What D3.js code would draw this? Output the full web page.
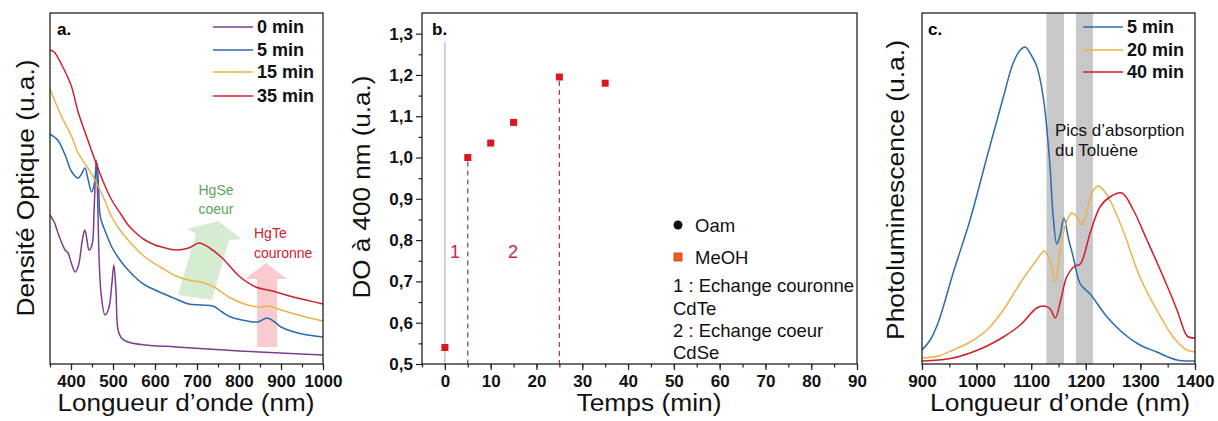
<!DOCTYPE html>
<html>
<head>
<meta charset="utf-8">
<script src="https://cdn.jsdelivr.net/npm/d3@7"></script>
<style>
  body { margin: 0; background: #fff; }
  svg { font-family: 'Liberation Sans', Arial, sans-serif; }
</style>
</head>
<body>
<svg width="1218" height="421"></svg>
<script>
// ---- data : panel a (absorbance, arbitrary units) ----
const abs0 = [[350,1.49],[360,1.42],[369,1.31],[380,1.19],[386,1.14],[393,1.11],[400,1.02],[410,0.92],[418,0.99],[427,1.24],[433,1.34],[438,1.24],[443,1.14],[450,1.19],[455,1.54],[460,2.04],[463,1.74],[467,1.04],[472,0.69],[481,0.49],[490,0.56],[497,0.79],[502,0.99],[507,0.74],[512,0.34],[520,0.26],[536,0.22],[576,0.19],[650,0.17],[800,0.13],[1000,0.09]]
const abs5 = [[350,2.30],[360,2.27],[370,2.23],[386,2.09],[402,1.92],[417,1.86],[425,1.90],[433,1.96],[441,1.84],[449,1.72],[455,1.79],[462,2.01],[466,1.74],[470,1.47],[485,1.29],[497,1.17],[520,1.02],[536,0.94],[560,0.84],[576,0.79],[616,0.71],[650,0.65],[680,0.60],[710,0.59],[738,0.58],[760,0.52],[780,0.47],[820,0.43],[845,0.42],[867,0.46],[885,0.42],[900,0.37],[940,0.31],[1000,0.27]]
const abs15 = [[350,2.75],[378,2.47],[400,2.29],[417,2.11],[440,1.96],[457,1.84],[480,1.64],[497,1.47],[520,1.32],[536,1.24],[576,1.07],[616,0.96],[650,0.88],[680,0.84],[710,0.82],[740,0.77],[780,0.66],[820,0.59],[850,0.57],[870,0.58],[900,0.54],[950,0.48],[1000,0.43]]
const abs35 = [[350,3.14],[360,3.12],[378,2.99],[400,2.79],[417,2.52],[440,2.24],[457,2.04],[480,1.79],[497,1.64],[520,1.49],[536,1.39],[560,1.29],[576,1.24],[600,1.19],[616,1.17],[650,1.14],[680,1.16],[705,1.21],[730,1.16],[760,1.06],[800,0.88],[840,0.77],[880,0.73],[920,0.68],[960,0.64],[1000,0.60]]
const absLabels = ['0 min', '5 min', '15 min', '35 min']
const absColors = ['#7e3d8f', '#2a6ab0', '#e8b44a', '#d0202e']

// ---- data : panel b (DO at 400 nm) ----
const times = [0, 5, 10, 15, 25, 35]
const doValues = [0.54, 1.0, 1.035, 1.085, 1.195, 1.18]
const bTicksX = [0, 10, 20, 30, 40, 50, 60, 70, 80, 90]
const bTicksY = [0.5, 0.6, 0.7, 0.8, 0.9, 1.0, 1.1, 1.2, 1.3]

// ---- data : panel c (photoluminescence, arbitrary units) ----
const pl5 = [[900,14],[915,24],[930,42],[957,91],[988,144],[1019,207],[1049,267],[1067,301],[1080,314],[1089,317],[1100,309],[1110,298],[1122,267],[1134,201],[1140,149],[1147,120],[1153,129],[1160,146],[1168,126],[1177,107],[1189,81],[1200,74],[1208,70],[1239,47],[1268,31],[1299,19],[1330,12],[1367,4],[1400,3]]
const pl20 = [[900,6],[930,8],[957,14],[988,22],[1019,34],[1049,54],[1080,81],[1110,104],[1124,113],[1135,102],[1144,82],[1152,109],[1159,132],[1174,151],[1185,146],[1193,139],[1205,159],[1214,174],[1223,178],[1232,174],[1244,164],[1268,134],[1299,87],[1330,54],[1360,27],[1385,14],[1400,12]]
const pl40 = [[900,3],[930,4],[957,6],[988,11],[1019,18],[1049,27],[1080,39],[1110,56],[1124,58],[1135,55],[1144,46],[1155,66],[1165,87],[1180,98],[1190,100],[1208,131],[1226,157],[1244,167],[1266,171],[1287,154],[1312,124],[1342,87],[1367,54],[1383,30],[1388,27],[1400,26]]
const plLabels = ['5 min', '20 min', '40 min']
const plColors = ['#2a6ab0', '#efb04a', '#d51a2a']
const tolueneBands = [[1128, 1160], [1182, 1213]]

const svg = d3.select('svg')
const plotTop = 13
const plotBottom = 364

// panel frame
const frame = (x0, x1) => {
  svg.append('rect')
    .attr('x', x0).attr('y', plotTop)
    .attr('width', x1 - x0).attr('height', plotBottom - plotTop)
    .attr('fill', 'none').attr('stroke', '#222').attr('stroke-width', 1.3)
}

const xAxis = (scale, major, minor, fmt) => {
  const g = svg.append('g').attr('transform', `translate(0,${plotBottom})`)
  g.append('g').call(d3.axisBottom(scale).tickValues(minor).tickSize(3.5).tickFormat(''))
  g.append('g').call(d3.axisBottom(scale).tickValues(major).tickSize(6).tickPadding(5).tickFormat(fmt || d3.format('d')))
  g.selectAll('.domain').remove()
  g.selectAll('line').attr('stroke', '#222').attr('stroke-width', 1.2)
  g.selectAll('text').attr('font-size', 17).attr('font-weight', 'bold').attr('fill', '#111')
}

// axis titles: wide font in the original, so stretch to the measured length
const title = (text, x, y, len, rotate) => {
  svg.append('text')
    .attr('transform', rotate ? `translate(${x},${y}) rotate(-90)` : `translate(${x},${y})`)
    .attr('text-anchor', 'middle')
    .attr('font-size', 23)
    .attr('textLength', len)
    .attr('lengthAdjust', 'spacingAndGlyphs')
    .attr('fill', '#111')
    .text(text)
}

const legendLines = (labels, colors, xl, ys) => {
  labels.forEach((l, i) => {
    svg.append('line').attr('x1', xl).attr('x2', xl + 40).attr('y1', ys[i]).attr('y2', ys[i])
      .attr('stroke', colors[i]).attr('stroke-width', 1.5)
    svg.append('text').attr('x', xl + 44).attr('y', ys[i] + 6)
      .attr('font-size', 18).attr('font-weight', 'bold').attr('fill', '#111').text(l)
  })
}

// ================= panel a =================
const xA = d3.scaleLinear().domain([350, 1000]).range([50, 323])
const yA = d3.scaleLinear().domain([0, 3.51]).range([plotBottom, plotTop])
const lineA = d3.line().x(d => xA(d[0])).y(d => yA(d[1])).curve(d3.curveCatmullRom.alpha(0.5))

// arrows (drawn below curves)
svg.append('path')
  .attr('d', 'M178,295 L196,234 L187,229 L218,221 L242,239 L229,240 L212,300 Z')
  .attr('fill', '#b9e0b4').attr('opacity', 0.6)
svg.append('path')
  .attr('d', 'M257,347 L257,279 L245,279 L266,263 L287,279 L277,279 L277,347 Z')
  .attr('fill', '#f5a9ae').attr('opacity', 0.6)

;[abs0, abs5, abs15, abs35].forEach((s, i) => {
  svg.append('path').attr('d', lineA(s)).attr('fill', 'none')
    .attr('stroke', absColors[i]).attr('stroke-width', 1.5)
})

svg.append('text').attr('x', 216).attr('y', 195).attr('text-anchor', 'middle')
  .attr('font-size', 14).attr('fill', '#5aa55a').text('HgSe')
svg.append('text').attr('x', 216).attr('y', 214).attr('text-anchor', 'middle')
  .attr('font-size', 14).attr('fill', '#5aa55a').text('coeur')
svg.append('text').attr('x', 254).attr('y', 238)
  .attr('font-size', 14).attr('fill', '#d0202e').text('HgTe')
svg.append('text').attr('x', 254).attr('y', 258)
  .attr('font-size', 14).attr('fill', '#d0202e').text('couronne')

frame(50, 323)
xAxis(xA, d3.range(400, 1001, 100), d3.range(350, 1001, 50))
title('Longueur d’onde (nm)', 186, 411, 257)
title('Densité Optique (u.a.)', 34, 188, 257, true)
svg.append('text').attr('x', 57).attr('y', 35).attr('font-size', 17).attr('font-weight', 'bold').text('a.')
legendLines(absLabels, absColors, 213, [27, 50, 72, 96])

// ================= panel b =================
const xB = d3.scaleLinear().domain([-5, 90]).range([422, 857])
const yB = d3.scaleLinear().domain([0.5, 1.35]).range([plotBottom, plotTop])
const comma = d => d3.format('.1f')(d).replace('.', ',')

svg.append('line').attr('x1', xB(0)).attr('x2', xB(0)).attr('y1', 42).attr('y2', plotBottom)
  .attr('stroke', '#b8c8da').attr('stroke-width', 1.5)
svg.append('line').attr('x1', xB(5)).attr('x2', xB(5)).attr('y1', yB(doValues[1]) + 4).attr('y2', plotBottom)
  .attr('stroke', '#8a3a4c').attr('stroke-width', 1.2).attr('stroke-dasharray', '5,4')
svg.append('line').attr('x1', xB(25)).attr('x2', xB(25)).attr('y1', yB(doValues[4]) + 4).attr('y2', plotBottom)
  .attr('stroke', '#cc2a3e').attr('stroke-width', 1.2).attr('stroke-dasharray', '5,4')

svg.selectAll('rect.pt').data(times).enter().append('rect').attr('class', 'pt')
  .attr('x', d => xB(d) - 3.5).attr('y', (d, i) => yB(doValues[i]) - 3.5)
  .attr('width', 7).attr('height', 7).attr('fill', '#e0141e')

svg.append('text').attr('x', 455).attr('y', 258).attr('text-anchor', 'middle')
  .attr('font-size', 18).attr('fill', '#cc2a3e').text('1')
svg.append('text').attr('x', 513).attr('y', 258).attr('text-anchor', 'middle')
  .attr('font-size', 18).attr('fill', '#cc2a3e').text('2')

frame(422, 857)
xAxis(xB, bTicksX, d3.range(-5, 91, 5))
{
  const g = svg.append('g').attr('transform', 'translate(422,0)')
  g.append('g').call(d3.axisLeft(yB).tickValues(d3.range(0.55, 1.35, 0.1)).tickSize(3.5).tickFormat(''))
  g.append('g').call(d3.axisLeft(yB).tickValues(bTicksY).tickSize(6).tickPadding(3).tickFormat(comma))
  g.selectAll('.domain').remove()
  g.selectAll('line').attr('stroke', '#222').attr('stroke-width', 1.2)
  g.selectAll('text').attr('font-size', 17).attr('font-weight', 'bold').attr('fill', '#111')
}
title('Temps (min)', 649, 411, 145)
title('DO à 400 nm (u.a.)', 370, 187, 223, true)
svg.append('text').attr('x', 432).attr('y', 35).attr('font-size', 17).attr('font-weight', 'bold').text('b.')

svg.append('circle').attr('cx', 678).attr('cy', 225).attr('r', 4.5).attr('fill', '#111')
svg.append('rect').attr('x', 674).attr('y', 253).attr('width', 8).attr('height', 8)
  .attr('fill', '#f05a1e').attr('stroke', '#c03a1a').attr('stroke-width', 0.8)
const bNotes = [['Oam', 695, 232], ['MeOH', 695, 264], ['1 : Echange couronne', 673, 292],
  ['CdTe', 673, 315], ['2 : Echange coeur', 673, 337], ['CdSe', 673, 359]]
bNotes.forEach(n => {
  svg.append('text').attr('x', n[1]).attr('y', n[2]).attr('font-size', 18.5).attr('fill', '#111').text(n[0])
})

// ================= panel c =================
const xC = d3.scaleLinear().domain([900, 1400]).range([922, 1195])
const yC = d3.scaleLinear().domain([0, 351]).range([plotBottom, plotTop])
const lineC = d3.line().x(d => xC(d[0])).y(d => yC(d[1])).curve(d3.curveCatmullRom.alpha(0.5))

tolueneBands.forEach(b => {
  svg.append('rect').attr('x', xC(b[0])).attr('y', plotTop)
    .attr('width', xC(b[1]) - xC(b[0])).attr('height', plotBottom - plotTop).attr('fill', '#c8c8c8')
})

;[pl5, pl20, pl40].forEach((s, i) => {
  svg.append('path').attr('d', lineC(s)).attr('fill', 'none')
    .attr('stroke', plColors[i]).attr('stroke-width', 1.5)
})

svg.append('text').attr('x', 1055).attr('y', 136).attr('font-size', 17).attr('fill', '#111').text('Pics d’absorption')
svg.append('text').attr('x', 1055).attr('y', 156).attr('font-size', 17).attr('fill', '#111').text('du Toluène')

frame(922, 1195)
xAxis(xC, d3.range(900, 1401, 100), d3.range(900, 1401, 50))
title('Longueur d’onde (nm)', 1060, 411, 260)
title('Photoluminescence (u.a.)', 904, 190, 300, true)
svg.append('text').attr('x', 928).attr('y', 35).attr('font-size', 17).attr('font-weight', 'bold').text('c.')
legendLines(plLabels, plColors, 1083, [27, 50, 72])
</script>
</body>
</html>
